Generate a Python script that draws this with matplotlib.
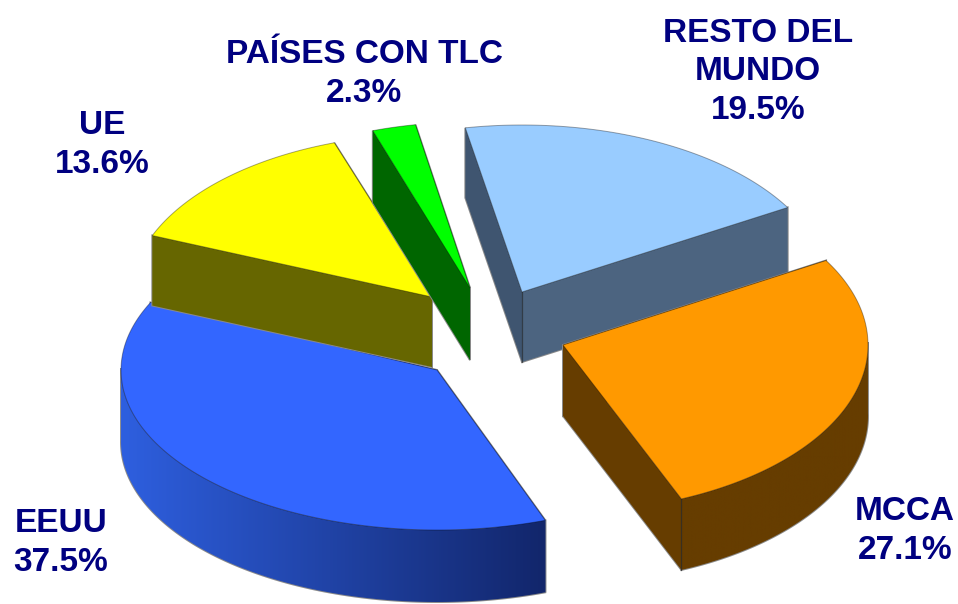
import numpy as np
import matplotlib
matplotlib.use("Agg")
import matplotlib.pyplot as plt
from matplotlib.patches import Polygon
from matplotlib.colors import LinearSegmentedColormap

categories = ["RESTO DEL\nMUNDO", "MCCA", "EEUU", "UE", "PAÍSES CON TLC"]
values = [19.5, 27.1, 37.5, 13.6, 2.3]
top_colors = ["#99CCFF", "#FF9900", "#3366FF", "#FFFF00", "#00FF00"]
cut_start = ["#3F5570", "#663D00", "#1A3380", "#666600", "#006600"]
cut_end = ["#4C6480", "#663D00", "#1A3380", "#666600", "#006600"]
wall_left = ["#4C6480", "#663D00", "#2E5FDF", "#666600", "#006600"]
wall_right = ["#4C6480", "#663D00", "#12266B", "#666600", "#006600"]
apex_x = [522, 563, 437, 432, 470]
apex_y = [292, 345, 370, 297, 288]
rx_list = [308, 305, 316, 302, 305]
ry_list = [167, 167, 160, 163, 166]
depth_list = [70, 71, 72, 70, 72]
rot_list = [0.0, 0.0, 2.8, 0.0, 0.3]
label_x = [758, 905, 61, 102, 364]
label_y = [72, 531, 543, 145, 74]
START = -10.6
NAVY = "#000080"
FRINGE = "#8A8A8A"

fig = plt.figure(figsize=(9.58, 6.04), dpi=100)
ax = fig.add_axes([0, 0, 1, 1])
ax.set_xlim(0, 958)
ax.set_ylim(604, 0)
ax.axis("off")

edges = START + np.concatenate([[0], np.cumsum(values)]) * 3.6 / (sum(values) / 100)

order = [4, 3, 0, 1, 2]
for i in order:
    a0, a1 = edges[i] + rot_list[i], edges[i + 1] + rot_list[i]
    cx, cy = apex_x[i], apex_y[i]
    rx, ry, dp = rx_list[i], ry_list[i], depth_list[i]
    base_z = i * 3

    def ell(deg):
        r = np.radians(deg)
        return cx + rx * np.sin(r), cy - ry * np.cos(r)

    th = np.linspace(a0, a1, 200)
    x, y = ell(th)
    # cut faces: grey fringe first, fill above it so inner lines stay hidden
    for a, col in ((a0, cut_start[i]), (a1, cut_end[i])):
        ex, ey = ell(a)
        corners = [(cx, cy), (ex, ey), (ex, ey + dp), (cx, cy + dp)]
        ax.add_patch(Polygon(corners, fc="none", ec=FRINGE, lw=1.4, zorder=base_z + 0.5))
    for a, col in ((a0, cut_start[i]), (a1, cut_end[i])):
        ex, ey = ell(a)
        corners = [(cx, cy), (ex, ey), (ex, ey + dp), (cx, cy + dp)]
        ax.add_patch(Polygon(corners, fc=col, ec="none", zorder=base_z + 1))
    # outer wall, only the visible (front) part
    mask = np.cos(np.radians(th)) <= 0.02 if i not in (3, 4) else np.zeros_like(th, bool)
    if mask.any():
        wx, wy = x[mask], y[mask]
        poly = np.r_[np.c_[wx, wy], np.c_[wx[::-1], wy[::-1] + dp]]
        ax.add_patch(Polygon(poly, fc="none", ec=FRINGE, lw=1.4, zorder=base_z + 0.5))
        p = Polygon(poly, fc="none", ec="none", zorder=base_z + 2)
        ax.add_patch(p)
        cmap = LinearSegmentedColormap.from_list("w", [wall_left[i], wall_right[i]])
        im = ax.imshow(np.linspace(0, 1, 256)[None, :], cmap=cmap, aspect="auto",
                       extent=(wx.min(), wx.max(), wy.max() + dp, wy.min()),
                       zorder=base_z + 2)
        im.set_clip_path(p)
    # dark crease between the two front faces
    if i == 0:
        ax.plot([cx, cx], [cy, cy + dp], color="#222222", alpha=0.6, lw=0.9, zorder=base_z + 2.5)
    if i == 1:
        ex, ey = ell(a1)
        ax.plot([ex, ex], [ey, ey + dp], color="#222222", alpha=0.7, lw=0.9, zorder=base_z + 2.5)
    # top face
    ax.add_patch(Polygon(np.r_[[(cx, cy)], np.c_[x, y]], fc=top_colors[i],
                         ec=(0, 0, 0, 0.35), lw=0.7, zorder=base_z + 3))

ax.set_xlim(0, 958)
ax.set_ylim(604, 0)

for i, c in enumerate(categories):
    ax.text(label_x[i], label_y[i], f"{c}\n{values[i]}%", ha="center", va="center",
            family="Liberation Sans", weight="bold", fontsize=24, color=NAVY,
            linespacing=1.33, zorder=40)

fig.savefig("out.png", dpi=100)
